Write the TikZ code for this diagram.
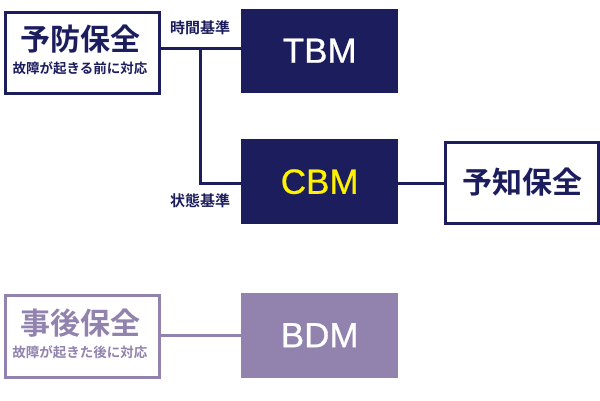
\documentclass[tikz,border=0pt]{standalone}
\usepackage{fontspec}
\setmainfont{Liberation Sans}
\newfontfamily\lat[FakeBold=0.7]{Liberation Sans}
\newfontfamily\jp{Noto Sans CJK JP Bold}
\definecolor{navy}{HTML}{1C1D5D}
\definecolor{lav}{HTML}{9182AE}
\begin{document}
\begin{tikzpicture}[x=1pt,y=-1pt,
  outline/.style={draw=#1,line width=3pt,fill=white},
  solid box/.style={fill=#1,draw=none},
  conn/.style={draw=#1,line width=3pt},
  big/.style={font=\jp\fontsize{30}{30}\selectfont,inner sep=0pt},
  sub/.style={font=\jp\fontsize{13.5}{14}\selectfont,inner sep=0pt},
  lab/.style={font=\jp\fontsize{15}{15}\selectfont,inner sep=0pt,text=navy},
  latin/.style={font=\lat\fontsize{35}{35}\selectfont,inner sep=0pt}]
\useasboundingbox (0,0) rectangle (600,400);
% boxes
\node[outline=navy,minimum width=154pt,minimum height=81pt,inner sep=0pt,anchor=north west] (pb) at (3.5,10.5) {};
\node[solid box=navy,minimum width=157pt,minimum height=84pt,inner sep=0pt,anchor=north west] (tbm) at (241,8.5) {};
\node[solid box=navy,minimum width=157pt,minimum height=85pt,inner sep=0pt,anchor=north west] (cbm) at (241,139) {};
\node[outline=navy,minimum width=153pt,minimum height=81pt,inner sep=0pt,anchor=north west] (yc) at (444,140.5) {};
\node[outline=lav,minimum width=154pt,minimum height=82pt,inner sep=0pt,anchor=north west] (jg) at (3.5,294) {};
\node[solid box=lav,minimum width=157pt,minimum height=85pt,inner sep=0pt,anchor=north west] (bdm) at (241,292.5) {};
% connectors
\coordinate (j1) at (200,48);
\coordinate (j2) at (200,183);
\draw[conn=navy] (pb.east |- j1) -- (tbm.west |- j1);
\draw[conn=navy] (j1) -- (j2) -- (cbm.west |- j2);
\draw[conn=navy] (cbm.east |- j2) -- (yc.west |- j2);
\draw[conn=lav] (jg.east |- 0,335) -- (bdm.west |- 0,335);
% texts
\node[big,text=navy] (t1) at (80,39) {予防保全};
\node[sub,text=navy] (s1) at (80,68) {故障が起きる前に対応};
\node[lab] (l1) at (200,28) {時間基準};
\node[lab] (l2) at (200,201) {状態基準};
\node[latin,text=white] (t2) at (tbm.center) {TBM};
\node[latin,text=yellow] (t3) at (cbm.center) {CBM};
\node[big,text=navy] (t4) at (yc.center) {予知保全};
\node[big,text=lav] (t5) at (80,323) {事後保全};
\node[sub,text=lav] (s5) at (80,352) {故障が起きた後に対応};
\node[latin,text=white] (t6) at (bdm.center) {BDM};
\end{tikzpicture}
\end{document}
